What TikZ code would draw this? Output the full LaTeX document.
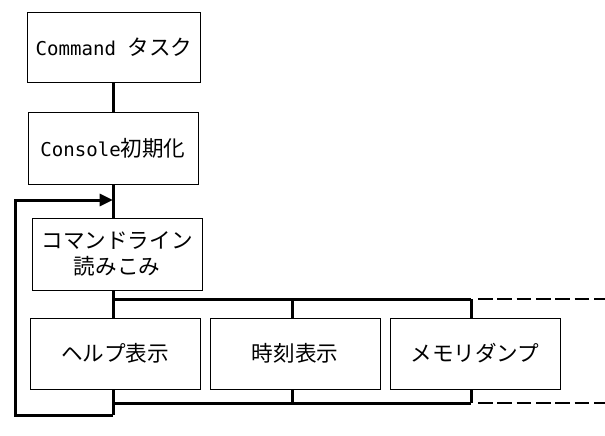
\documentclass[tikz,border=0pt]{standalone}
\usepackage{fontspec}
\setmainfont{Noto Sans CJK JP}
\newfontfamily\latmono{DejaVu Sans Mono}
\newcommand{\lat}[1]{{\latmono\fontsize{14.3}{19.5}\selectfont #1}}
\usetikzlibrary{arrows.meta}
\begin{document}
\begin{tikzpicture}[x=0.75pt,y=-0.75pt,
  box/.style={draw, line width=0.75pt, inner sep=0pt, align=center,
    font=\fontsize{16.2}{19.5}\selectfont},
  wire/.style={line width=2.25pt, line join=miter},
  dashwire/.style={line width=1.6pt, dash pattern=on 11pt off 3.5pt}]
\useasboundingbox (0,0) rectangle (605,435);
% boxes
\node[box, minimum width=129.75pt, minimum height=51.75pt] (cmd) at (114,47.5) {\lat{Command }タスク};
\node[box, minimum width=127.5pt, minimum height=54pt] (con) at (113,148) {\lat{Console}初期化};
\node[box, minimum width=127.5pt, minimum height=54pt] (rd) at (117,254) {コマンドライン\\読みこみ};
\node[box, minimum width=127.5pt, minimum height=53.25pt] (help) at (115,353.5) {ヘルプ表示};
\node[box, minimum width=127.5pt, minimum height=53.25pt] (time) at (295,353.5) {時刻表示};
\node[box, minimum width=127.5pt, minimum height=53.25pt] (mem) at (475,353.5) {メモリダンプ};
% junction coordinates
\coordinate (t1) at (113,299);
\coordinate (t2) at (292,299);
\coordinate (t3) at (471,299);
\coordinate (tdash) at (478,299);
\coordinate (tend) at (605,299);
\coordinate (b1) at (113,403);
\coordinate (b2) at (292,403);
\coordinate (b3) at (471,403);
\coordinate (bdash) at (478,403);
\coordinate (bend) at (605,403);
\coordinate (lbr) at (113,415);
\coordinate (lbl) at (15,415);
\coordinate (ltl) at (15,200);
\coordinate (entry) at (113,200);
% connectors
\draw[wire] (cmd.south -| 113,0) -- (con.north -| 113,0);
\draw[wire] (con.south -| 113,0) -- (rd.north -| t1);
\draw[wire] (rd.south -| t1) -- (help.north -| t1);
\draw[wire] (t1) -- (t3);
\draw[wire] (t2) -- (time.north -| t2);
\draw[wire] (t3) -- (mem.north -| t3);
\draw[dashwire] (tdash) -- (tend);
\draw[wire] (help.south -| b1) -- (lbr);
\draw[wire] (b1) -- (b3);
\draw[wire] (time.south -| b2) -- (b2);
\draw[wire] (mem.south -| b3) -- (b3);
\draw[dashwire] (bdash) -- (bend);
\draw[wire, -{Triangle[length=10pt,width=9pt]}] (lbr) -- (lbl) -- (ltl) -- (entry);
\end{tikzpicture}
\end{document}
